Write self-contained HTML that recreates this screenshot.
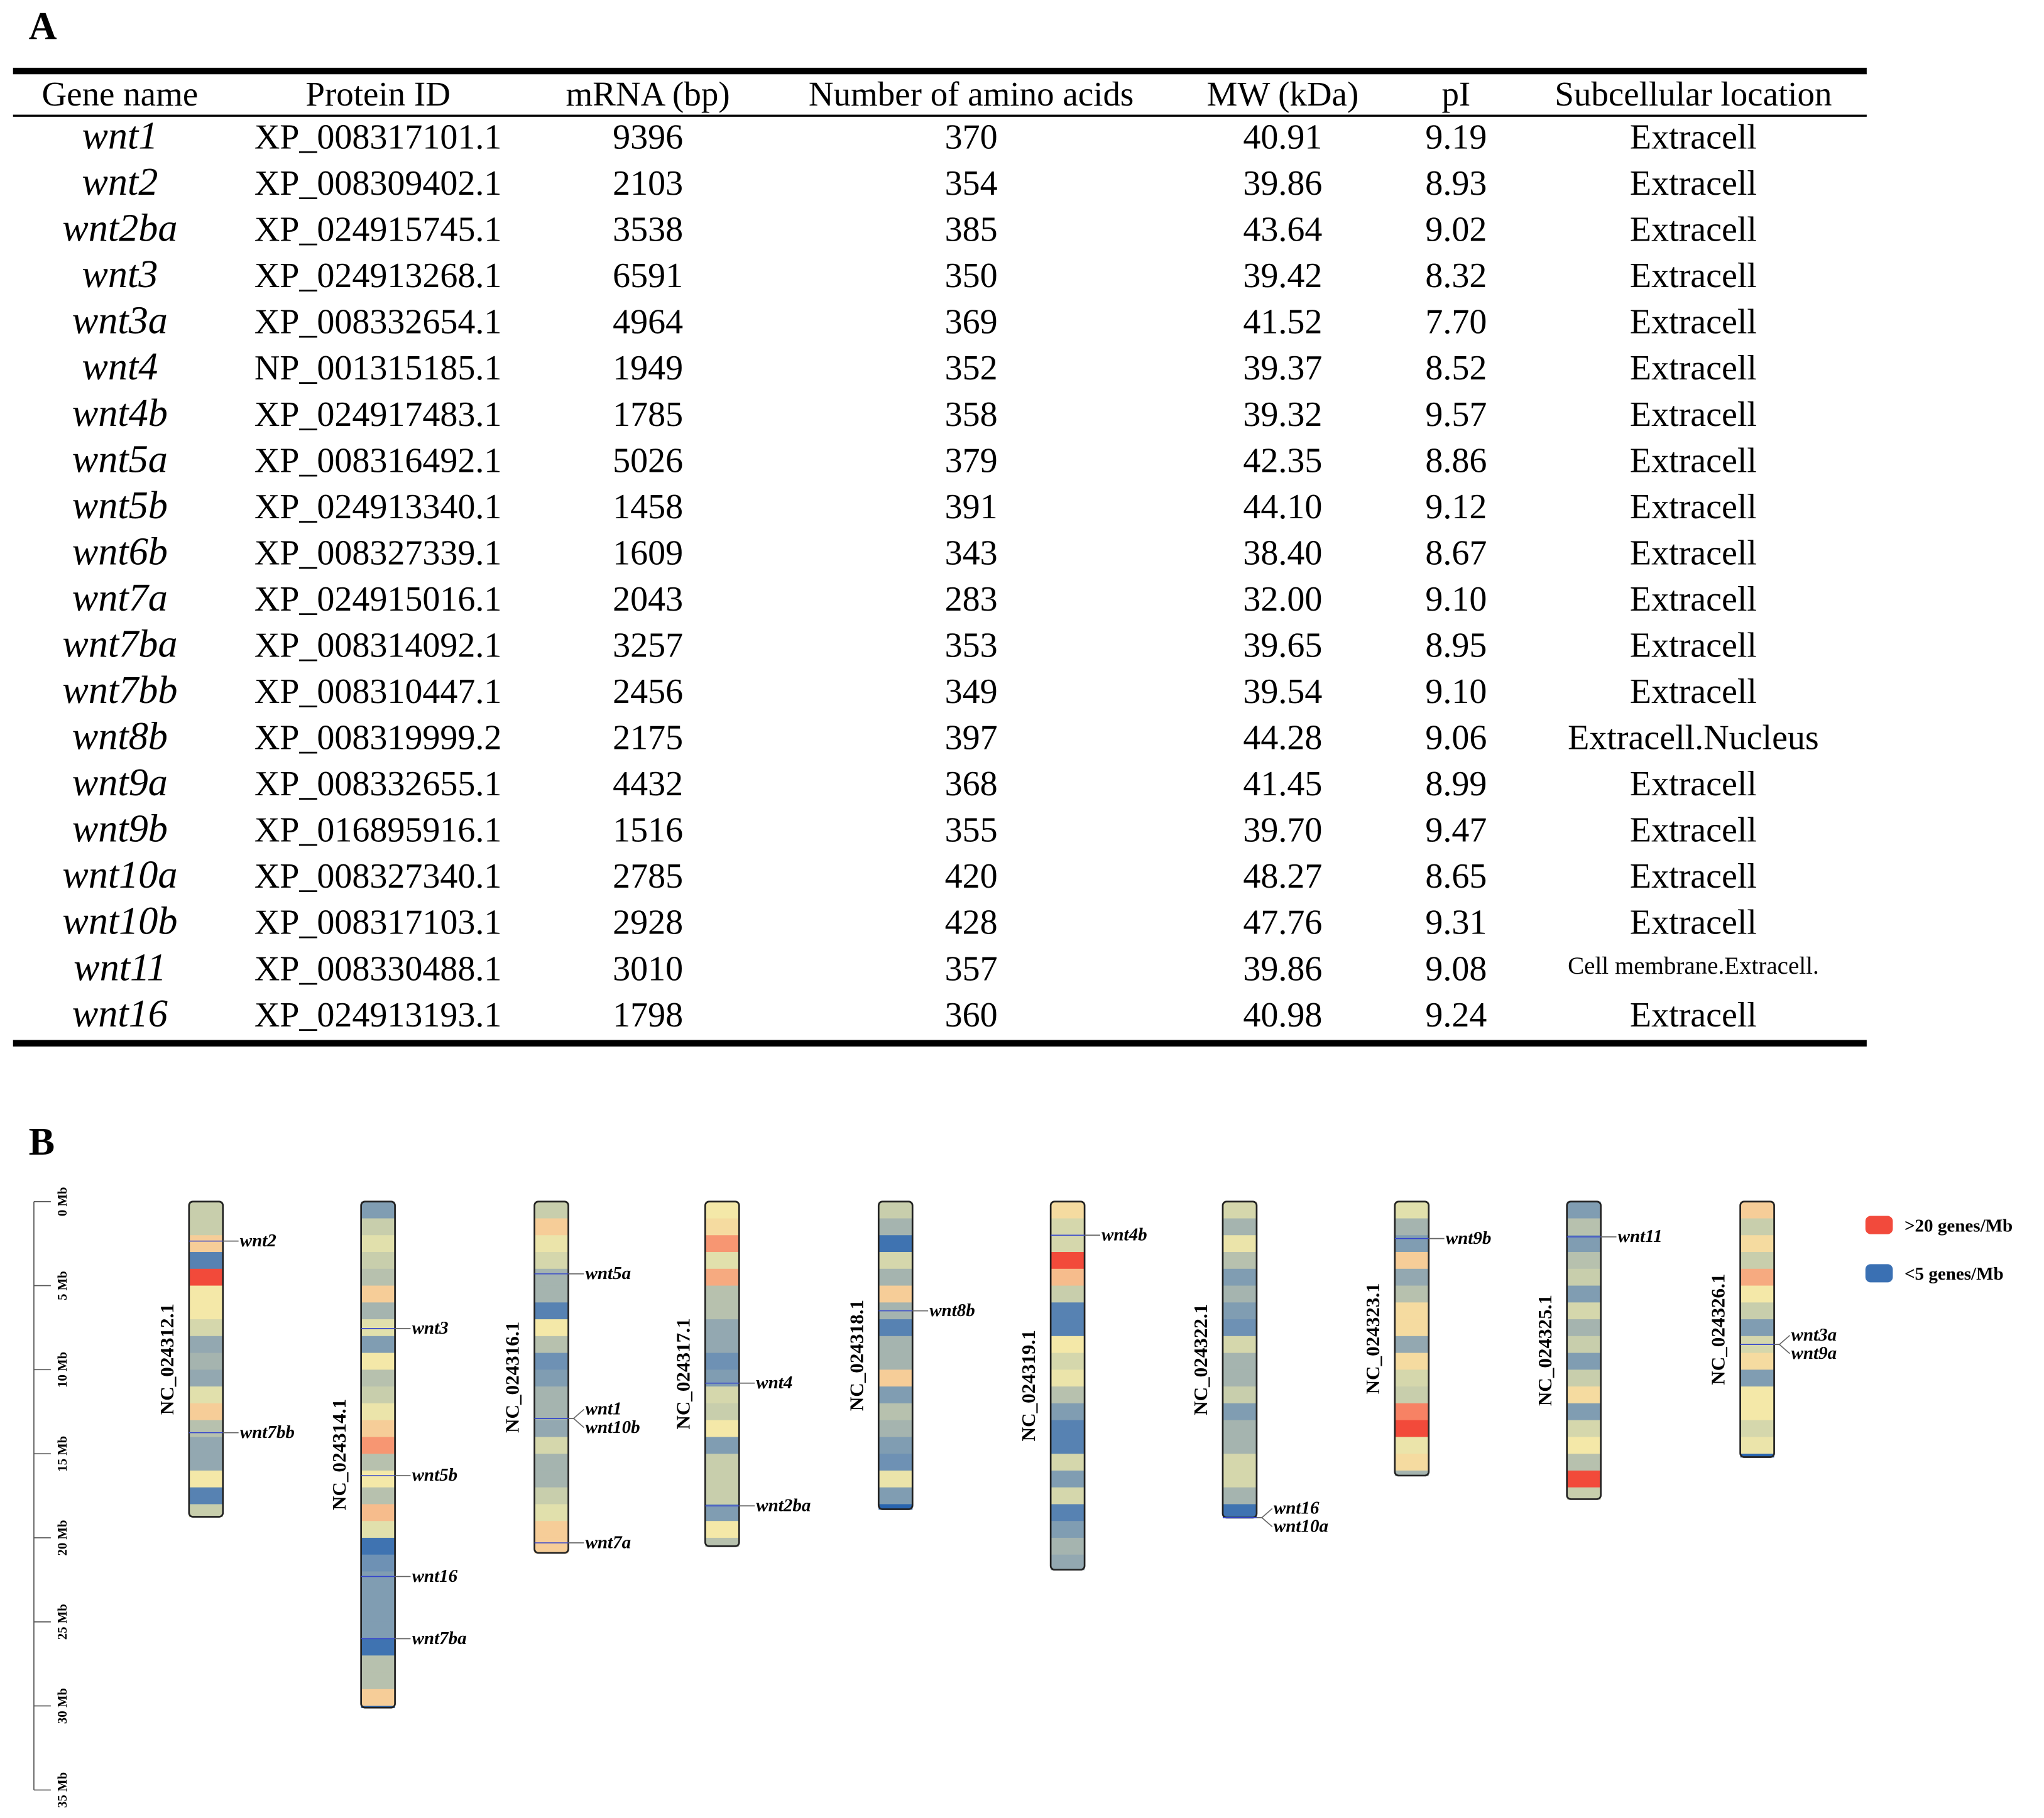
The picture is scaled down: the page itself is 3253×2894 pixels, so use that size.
<!DOCTYPE html>
<html><head><meta charset="utf-8"><style>
html,body{margin:0;padding:0;background:#fff}
svg{display:block}
.t{font-family:"Liberation Serif",serif;fill:#000}
</style></head><body>
<svg id="fig" width="3253" height="2894" viewBox="0 0 1568 1395" preserveAspectRatio="none" xmlns="http://www.w3.org/2000/svg">
<text class="t" x="22" y="30" font-size="30" font-weight="bold">A</text>
<g id="table"></g>
<text class="t" x="22" y="886" font-size="30" font-weight="bold">B</text>
<g id="axis"></g>
<g id="chroms"></g>
<g id="legend">
<rect x="1431" y="933" width="21" height="14" rx="4" fill="#f24a3c"/>
<text class="t" x="1461" y="945" font-size="14" font-weight="bold">&gt;20 genes/Mb</text>
<rect x="1431" y="970" width="21" height="14" rx="4" fill="#3a70b3"/>
<text class="t" x="1461" y="982" font-size="14" font-weight="bold">&lt;5 genes/Mb</text>
</g>
</svg>
<script>
const NS="http://www.w3.org/2000/svg";
const headers=["Gene name","Protein ID","mRNA (bp)","Number of amino acids","MW (kDa)","pI","Subcellular location"];
const geneNames=["wnt1","wnt2","wnt2ba","wnt3","wnt3a","wnt4","wnt4b","wnt5a","wnt5b","wnt6b","wnt7a","wnt7ba","wnt7bb","wnt8b","wnt9a","wnt9b","wnt10a","wnt10b","wnt11","wnt16"];
const proteinIds=["XP_008317101.1","XP_008309402.1","XP_024915745.1","XP_024913268.1","XP_008332654.1","NP_001315185.1","XP_024917483.1","XP_008316492.1","XP_024913340.1","XP_008327339.1","XP_024915016.1","XP_008314092.1","XP_008310447.1","XP_008319999.2","XP_008332655.1","XP_016895916.1","XP_008327340.1","XP_008317103.1","XP_008330488.1","XP_024913193.1"];
const mrna=["9396","2103","3538","6591","4964","1949","1785","5026","1458","1609","2043","3257","2456","2175","4432","1516","2785","2928","3010","1798"];
const aas=["370","354","385","350","369","352","358","379","391","343","283","353","349","397","368","355","420","428","357","360"];
const mws=["40.91","39.86","43.64","39.42","41.52","39.37","39.32","42.35","44.10","38.40","32.00","39.65","39.54","44.28","41.45","39.70","48.27","47.76","39.86","40.98"];
const pis=["9.19","8.93","9.02","8.32","7.70","8.52","9.57","8.86","9.12","8.67","9.10","8.95","9.10","9.06","8.99","9.47","8.65","9.31","9.08","9.24"];
const locs=["Extracell","Extracell","Extracell","Extracell","Extracell","Extracell","Extracell","Extracell","Extracell","Extracell","Extracell","Extracell","Extracell","Extracell.Nucleus","Extracell","Extracell","Extracell","Extracell","Cell membrane.Extracell.","Extracell"];

function el(tag,attrs,parent,txt){const e=document.createElementNS(NS,tag);for(const k in attrs)e.setAttribute(k,attrs[k]);if(txt!==undefined)e.textContent=txt;parent.appendChild(e);return e;}

const tb=document.getElementById('table');
const colX=[92,290,497,745,984,1117,1299];
let r=el('rect',{x:10,y:52,width:1422,height:5,fill:'#000'},tb);

r=el('rect',{x:10,y:88,width:1422,height:1.6,fill:'#000'},tb);

r=el('rect',{x:10,y:798,width:1422,height:5,fill:'#000'},tb);

headers.forEach((h,i)=>{const t=el('text',{class:'t',x:colX[i],y:81,'font-size':26.5,'text-anchor':'middle'},tb,h);

});
geneNames.forEach((g,i)=>{
 const y=114+i*35.45;
 const vals=[g,proteinIds[i],mrna[i],aas[i],mws[i],pis[i],locs[i]];
 vals.forEach((v,j)=>{
  let fs=27, yy=y;
  if(j===0) fs=30;
  if(j===6&&v.length>20){fs=18.8;yy=y-5;}
  const t=el('text',{class:'t',x:colX[j],y:yy,'font-size':fs,'text-anchor':'middle'},tb,v);
  if(j===0)t.setAttribute('font-style','italic');
  
  
 });
});

const chromNames=["NC_024312.1","NC_024314.1","NC_024316.1","NC_024317.1","NC_024318.1","NC_024319.1","NC_024322.1","NC_024323.1","NC_024325.1","NC_024326.1"];
const chromLengths=[18.75,30.1,20.9,20.5,18.3,21.9,18.8,16.3,17.7,15.2];
const dens0=[10,10,16,4,22,14,14,11,7,8,7,12,16,9,7,7,14,4,10];
const dens1=[6,10,12,10,9,16,8,12,6,14,9,10,13,16,19,9,14,9,17,12,3,5,6,6,6,6,3,9,9,16,2];
const dens2=[10,16,13,11,8,8,4,14,9,5,6,8,8,7,11,8,8,10,12,16,16];
const dens3=[14,15,19,12,18,9,9,7,7,5,6,11,10,14,6,10,10,10,6,14,9];
const dens4=[10,8,3,11,8,16,8,4,8,8,16,6,9,8,6,5,13,6,2];
const dens5=[15,11,11,22,17,10,4,4,14,11,13,9,6,4,4,11,6,11,4,6,8,7];
const dens6=[11,8,13,9,6,8,6,5,11,8,8,10,6,8,8,11,11,8,3];
const dens7=[12,8,6,16,7,9,15,15,7,15,11,10,20,22,13,15,8];
const dens8=[6,9,6,9,10,6,11,8,10,6,10,15,6,11,14,9,23,10];
const dens9=[16,10,15,10,18,14,10,6,11,15,6,14,14,11,13,2];
const densities=[dens0,dens1,dens2,dens3,dens4,dens5,dens6,dens7,dens8,dens9];
const geneLabels=["wnt2","wnt7bb","wnt3","wnt5b","wnt16","wnt7ba","wnt5a","wnt1","wnt10b","wnt7a","wnt4","wnt2ba","wnt8b","wnt4b","wnt16","wnt10a","wnt9b","wnt11","wnt3a","wnt9a"];
const geneChrom=[0,0,1,1,1,1,2,2,2,2,3,3,4,5,6,6,7,8,9,9];
const genePos=[2.35,13.75,7.55,16.3,22.3,26.0,4.3,12.9,12.9,20.3,10.8,18.1,6.5,2.0,18.8,18.8,2.2,2.1,8.5,8.5];
const axisTicks=[0,5,10,15,20,25,30,35];

const Y0=922, PXMB=12.9;
const yScale=mb=>Y0+mb*PXMB;
const chromX=[145,277,410,541,674,806,938,1070,1202,1335];
const CW=26;
const stops=[[2,[40,100,175]],[5,[110,145,180]],[8,[165,180,175]],[10,[200,206,172]],[12,[225,224,172]],[14,[244,232,168]],[16,[246,205,152]],[18,[246,170,128]],[20,[247,130,100]],[22,[242,74,58]]];
function color(v){if(v<=stops[0][0])return 'rgb('+stops[0][1]+')';for(let i=1;i<stops.length;i++){if(v<=stops[i][0]){const a=stops[i-1],b=stops[i],t=(v-a[0])/(b[0]-a[0]);return 'rgb('+a[1].map((c,k)=>Math.round(c+(b[1][k]-c)*t)).join(',')+')';}}return 'rgb('+stops[stops.length-1][1]+')';}

const ax=document.getElementById('axis');
let ln=el('line',{x1:26,x2:26,y1:yScale(0),y2:yScale(35),stroke:'#555','stroke-width':0.8},ax);

axisTicks.forEach(v=>{const y=yScale(v);
 const tk=el('line',{x1:26,x2:39,y1:y,y2:y,stroke:'#555','stroke-width':0.8},ax);
 
 const tx=el('text',{class:'t',x:0,y:0,'font-size':10,'font-weight':'bold','text-anchor':'middle',transform:`translate(51,${y}) rotate(-90)`},ax,v+' Mb');
 });

const cg=document.getElementById('chroms');
chromNames.forEach((n,c)=>{
 const g=el('g',{},cg);
 
 const x=chromX[c], L=chromLengths[c];
 densities[c].forEach((d,i)=>{const a=i,b=Math.min(i+1,L);if(b<=a)return;
  const rc=el('rect',{x:x,y:yScale(a),width:CW,height:yScale(b)-yScale(a)+0.3,fill:color(d)},g);
  });
 const o=el('rect',{x:x,y:yScale(0),width:CW,height:yScale(L)-yScale(0),rx:3,fill:'none',stroke:'#222','stroke-width':1.3},g);
 
 const lb=el('text',{class:'t',x:0,y:0,'font-size':15,'font-weight':'bold','text-anchor':'middle',transform:`translate(${x-12},${yScale(L/2)}) rotate(-90)`},g,n);
 
});
geneLabels.forEach((name,i)=>{
 const c=geneChrom[i], x=chromX[c], y=yScale(genePos[i]);
 let dy=0;
 geneLabels.forEach((n2,j)=>{if(j!==i&&geneChrom[j]===c&&Math.abs(genePos[j]-genePos[i])<1.2)dy=(j<i)?7:-7;});
 const g=el('g',{},cg);
 
 el('line',{x1:x,x2:x+CW,y1:y,y2:y,stroke:'#3344cc','stroke-width':0.7},g);
 el('polyline',{points:`${x+CW},${y} ${x+CW+4},${y} ${x+CW+12},${y+dy}`,fill:'none',stroke:'#666','stroke-width':0.8},g);
 el('text',{class:'t',x:x+CW+13,y:y+dy+4,'font-size':14,'font-style':'italic','font-weight':'bold'},g,name);
});
</script>
</body></html>
